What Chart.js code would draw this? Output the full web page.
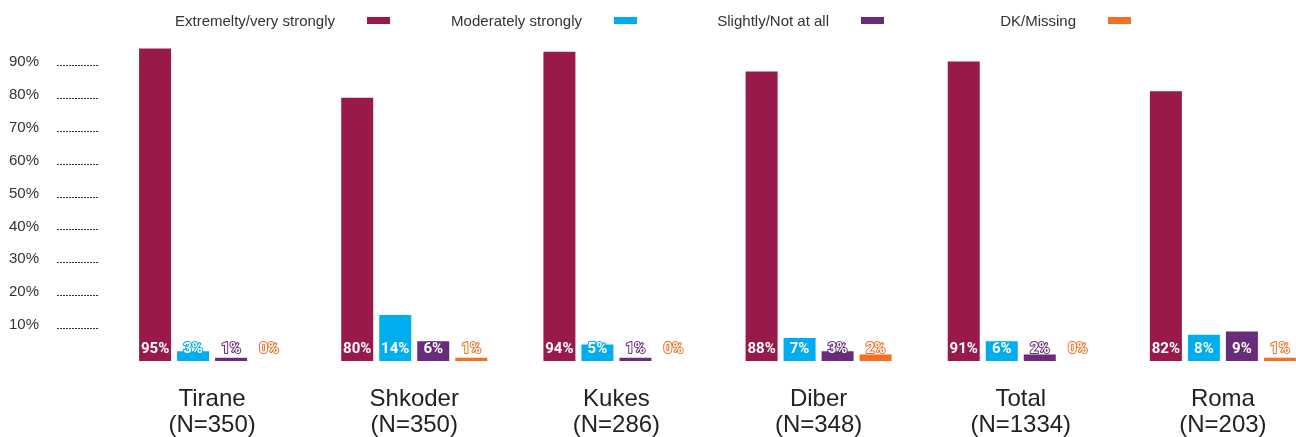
<!DOCTYPE html>
<html>
<head>
<meta charset="utf-8">
<script src="https://cdn.jsdelivr.net/npm/chart.js@4"></script>
<style>
    html, body { margin: 0; padding: 0; background: #fff; overflow: hidden; }
    #wrap { position: relative; width: 1330px; height: 437px; }
</style>
</head>
<body>
<div id="wrap"><canvas id="grafico"></canvas></div>
<script>
// =========================
// DATOS
// =========================

const ciudades = [
    ["Tirane", "(N=350)"],
    ["Shkoder", "(N=350)"],
    ["Kukes", "(N=286)"],
    ["Diber", "(N=348)"],
    ["Total", "(N=1334)"],
    ["Roma", "(N=203)"]
];

const series = [
    "Extremelty/very strongly",
    "Moderately strongly",
    "Slightly/Not at all",
    "DK/Missing"
];

const extremely  = [95, 80, 94, 88, 91, 82];
const moderately = [3, 14, 5, 7, 6, 8];
const slightly   = [1, 6, 1, 3, 2, 9];
const missing    = [0, 1, 0, 2, 0, 1];

const ticksY = [10, 20, 30, 40, 50, 60, 70, 80, 90];

const colores = ["#991A4A", "#00AEEF", "#682C7A", "#F36F24"];


// =========================
// LEYENDA (texto + cuadro a la derecha)
// =========================

const leyenda = {
    id: "leyenda",
    afterDraw(chart) {
        const ctx = chart.ctx;
        ctx.save();
        ctx.font = "15px 'Liberation Sans', Arial, sans-serif";
        ctx.textAlign = "right";
        ctx.textBaseline = "alphabetic";
        chart.data.datasets.forEach((ds, i) => {
            const boxRight = 390 + i * 247;
            const boxLeft = boxRight - 23;
            ctx.fillStyle = ds.backgroundColor;
            ctx.fillRect(boxLeft, 17, 23, 7);
            ctx.fillStyle = "#333333";
            ctx.fillText(ds.label, boxLeft - 32, 26);
        });
        ctx.restore();
    }
};


// =========================
// LÍNEAS PUNTEADAS DEL EJE Y
// =========================

const punteado = {
    id: "punteado",
    beforeDatasetsDraw(chart) {
        const ctx = chart.ctx;
        const y = chart.scales.y;
        ctx.save();
        ctx.strokeStyle = "#333333";
        ctx.lineWidth = 1;
        ctx.setLineDash([2, 1]);
        ticksY.forEach(v => {
            const py = Math.round(y.getPixelForValue(v)) + 0.5;
            ctx.beginPath();
            ctx.moveTo(57, py);
            ctx.lineTo(98, py);
            ctx.stroke();
        });
        ctx.restore();
    }
};


// =========================
// ETIQUETAS DE VALOR
// =========================

const etiquetas = {
    id: "etiquetas",
    afterDatasetsDraw(chart) {
        const ctx = chart.ctx;
        const base = chart.scales.y.getPixelForValue(0);
        ctx.save();
        ctx.font = "bold 15px Roboto, 'Liberation Sans', sans-serif";
        ctx.textAlign = "center";
        ctx.textBaseline = "middle";
        ctx.lineJoin = "round";
        chart.data.datasets.forEach((ds, i) => {
            const meta = chart.getDatasetMeta(i);
            meta.data.forEach((bar, j) => {
                const txt = ds.data[j] + "%";
                ctx.strokeStyle = ds.backgroundColor;
                ctx.lineWidth = 2;
                ctx.strokeText(txt, bar.x, base - 12);
                ctx.fillStyle = "#FFFFFF";
                ctx.fillText(txt, bar.x, base - 12);
            });
        });
        ctx.restore();
    }
};


// =========================
// GRÁFICO
// =========================

const valores = [extremely, moderately, slightly, missing];

new Chart(document.getElementById("grafico"), {

    type: "bar",

    data: {
        labels: ciudades,
        datasets: series.map((nombre, i) => ({
            label: nombre,
            data: valores[i],
            backgroundColor: colores[i],
            borderWidth: 0,
            categoryPercentage: 0.752,
            barPercentage: 0.842
        }))
    },

    options: {

        responsive: true,
        maintainAspectRatio: false,
        animation: false,

        layout: {
            padding: { top: 32, right: 6, left: 9, bottom: 0 }
        },

        plugins: {
            legend: { display: false },
            tooltip: { enabled: false }
        },

        scales: {

            x: {
                grid: { display: false, drawTicks: false },
                border: { display: false },
                ticks: {
                    padding: 25,
                    color: "#222222",
                    font: {
                        family: "'Liberation Sans', Arial, sans-serif",
                        size: 24,
                        lineHeight: 1.1
                    }
                },
                afterFit: scale => { scale.height = 76; }
            },

            y: {
                min: 0,
                max: 100,
                grid: { display: false, drawTicks: false },
                border: { display: false },
                afterBuildTicks: scale => {
                    scale.ticks = ticksY.map(v => ({ value: v }));
                },
                ticks: {
                    padding: 0,
                    crossAlign: "far",
                    labelOffset: -3,
                    color: "#333333",
                    font: {
                        family: "'Liberation Sans', Arial, sans-serif",
                        size: 15
                    },
                    callback: value => value + "%"
                },
                afterFit: scale => { scale.width = 102; }
            }

        }

    },

    plugins: [punteado, etiquetas, leyenda]

});
</script>
</body>
</html>
